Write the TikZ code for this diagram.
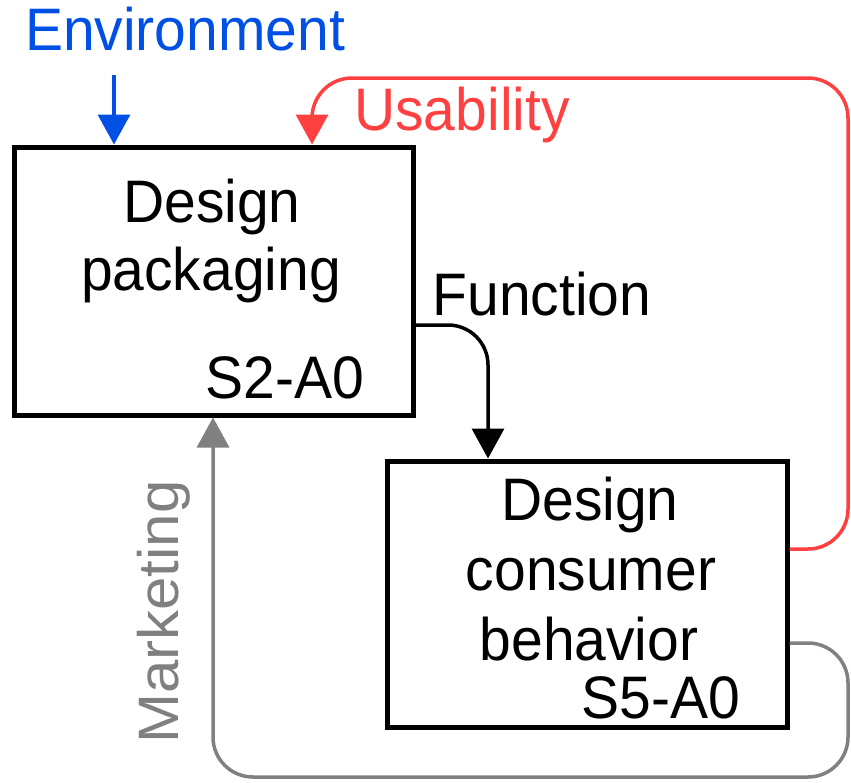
\documentclass[tikz,border=0pt]{standalone}
\usepackage{fontspec}
\setmainfont{Liberation Sans}
\usetikzlibrary{arrows.meta}
\definecolor{envblue}{RGB}{0,80,230}
\definecolor{usered}{RGB}{255,64,64}
\definecolor{mktgray}{RGB}{128,128,128}
\begin{document}
\begin{tikzpicture}[x=1pt,y=-1pt,
  box/.style={draw, line width=5pt, inner sep=0pt},
  lbl/.style={font=\fontsize{60}{70}\selectfont, inner sep=0pt, anchor=base, xscale=0.95},
  conn/.style={line width=3.5pt, -{Triangle[length=30pt,width=32pt]}, rounded corners=40pt}]
\useasboundingbox (0,0) rectangle (851,782);
% boxes
\node[box, minimum width=399pt, minimum height=268pt] (b1) at (213.5,281) {};
\node[box, minimum width=400pt, minimum height=266pt] (b2) at (587,594) {};
% box texts
\node[lbl] (t1a) at (212,222) {Design};
\node[lbl] (t1b) at (211,290) {packaging};
\node[lbl] (t1c) at (285,398) {S2-A0};
\node[lbl] (t2a) at (590,520) {Design};
\node[lbl] (t2b) at (591,590) {consumer};
\node[lbl] (t2c) at (589,660) {behavior};
\node[lbl] (t2d) at (661,718) {S5-A0};
% labels
\node[lbl, text=envblue] (env) at (185,50) {Environment};
\node[lbl, text=usered] (usa) at (462,130) {Usability};
\node[lbl] (fun) at (542,315) {Function};
\node[lbl, text=mktgray, rotate=90] (mkt) at (178,612) {Marketing};
% coordinates
\coordinate (envs) at (114,75);
\coordinate (ra) at (848,549);
\coordinate (rb) at (848,78);
\coordinate (rc) at (312,78);
\coordinate (fa) at (488,325);
\coordinate (ga) at (848,643);
\coordinate (gb) at (848,777);
\coordinate (gc) at (213,777);
% connectors
\draw[conn, envblue] (envs) -- (envs |- b1.north);
\draw[conn, usered] (b2.east |- ra) -- (ra) -- (rb) -- (rc) -- (rc |- b1.north);
\draw[conn, black] (b1.east |- fa) -- (fa) -- (fa |- b2.north);
\draw[conn, mktgray] (b2.east |- ga) -- (ga) -- (gb) -- (gc) -- (gc |- b1.south);
\end{tikzpicture}
\end{document}
